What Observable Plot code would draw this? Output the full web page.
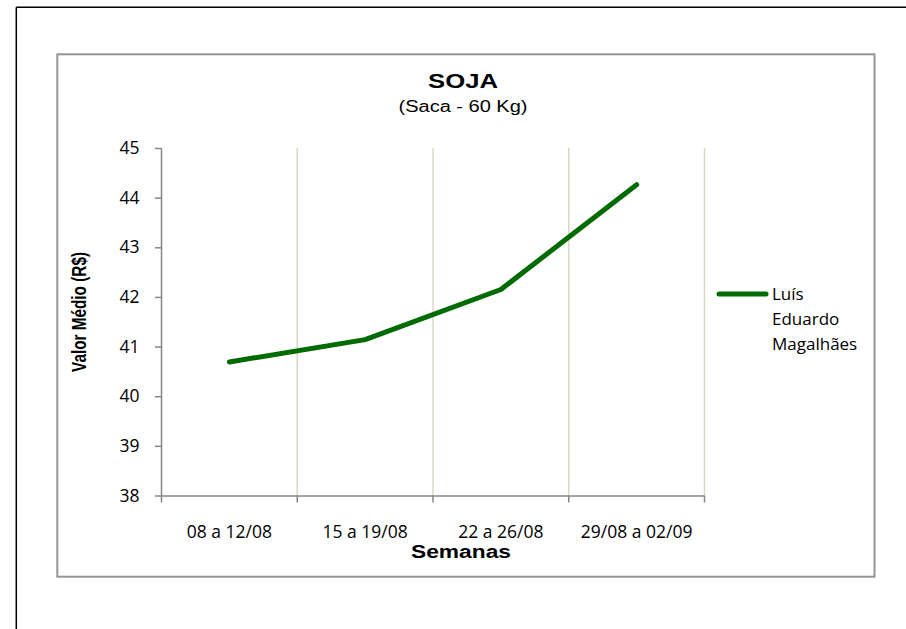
<!DOCTYPE html>
<html>
<head>
<meta charset="utf-8">
<script src="https://cdn.jsdelivr.net/npm/d3@7"></script>
<script src="https://cdn.jsdelivr.net/npm/@observablehq/plot@0.6"></script>
<style>
  html, body { margin: 0; padding: 0; background: #fff; overflow: hidden; }
</style>
</head>
<body>
<div id="chart"></div>
<script>
// ---- data ----
const weeks = ["08 a 12/08", "15 a 19/08", "22 a 26/08", "29/08 a 02/09"];
const prices = [40.70, 41.15, 42.16, 44.27];
const yTicks = [38, 39, 40, 41, 42, 43, 44, 45];
const seriesLines = ["Luís", "Eduardo", "Magalhães"];
const titleText = "SOJA";
const subtitleText = "(Saca - 60 Kg)";
const xLabelText = "Semanas";
const yLabelText = "Valor Médio (R$)";

const rows = weeks.map((w, i) => ({ i, week: w, value: prices[i] }));
const bandEdges = d3.range(weeks.length + 1).map(k => k - 0.5);
const gridEdges = bandEdges.slice(1);
const centers = d3.range(weeks.length);

const lineColor = "#006b00";
const axisColor = "#868686";
const gridColor = "#dcd7c4";

const svg = Plot.plot({
  width: 906,
  height: 629,
  marginLeft: 161,
  marginRight: 202,
  marginTop: 148,
  marginBottom: 133.5,
  style: { fontFamily: "'Open Sans', sans-serif", fontSize: "17.5px", background: "#fff", color: "#000" },
  x: { type: "linear", domain: [-0.5, weeks.length - 0.5] },
  y: { domain: [yTicks[0], yTicks[yTicks.length - 1]] },
  marks: [
    Plot.ruleX(gridEdges, { stroke: gridColor, strokeWidth: 1.5 }),
    Plot.ruleX([bandEdges[0]], { stroke: axisColor, strokeWidth: 1.5 }),
    Plot.ruleY([yTicks[0]], { stroke: axisColor, strokeWidth: 1.5 }),
    Plot.axisY(yTicks, { tickSize: 6, tickPadding: 16, stroke: axisColor, strokeWidth: 1.5, fill: "#000", fontSize: 17.5, tickFormat: d => String(d), label: null }),
    Plot.axisX(bandEdges, { tickSize: 7, stroke: axisColor, strokeWidth: 1.5, tickFormat: () => "", label: null }),
    Plot.axisX(centers, { tickSize: 0, tickPadding: 30, fill: "#000", fontSize: 17.5, tickFormat: i => weeks[i], label: null }),
    Plot.line(rows, { x: "i", y: "value", stroke: lineColor, strokeWidth: 5, strokeLinecap: "round", strokeLinejoin: "round" })
  ]
});

const s = d3.select(svg);
// outer black border (top and left)
s.append("line").attr("x1", 16.3).attr("y1", 7.2).attr("x2", 906).attr("y2", 7.2)
  .attr("stroke", "#000").attr("stroke-width", 1.5);
s.append("line").attr("x1", 16.3).attr("y1", 7.2).attr("x2", 16.3).attr("y2", 629)
  .attr("stroke", "#000").attr("stroke-width", 1.5);
// chart area gray box
s.append("rect").attr("x", 57.3).attr("y", 54.3).attr("width", 874.5 - 57.3).attr("height", 576.7 - 54.3)
  .attr("fill", "none").attr("stroke", "#959595").attr("stroke-width", 2);

// title
s.append("text").attr("x", 463).attr("y", 88).attr("text-anchor", "middle")
  .attr("font-family", "'Liberation Sans', Arial, sans-serif").attr("font-weight", "bold").attr("font-size", 20)
  .attr("textLength", 70).attr("lengthAdjust", "spacingAndGlyphs").attr("fill", "#000")
  .text(titleText);
s.append("text").attr("x", 463).attr("y", 112).attr("text-anchor", "middle")
  .attr("font-family", "'Liberation Sans', Arial, sans-serif").attr("font-size", 16)
  .attr("textLength", 129).attr("lengthAdjust", "spacingAndGlyphs").attr("fill", "#000")
  .text(subtitleText);

// x axis title
s.append("text").attr("x", 461).attr("y", 557.5).attr("text-anchor", "middle")
  .attr("font-family", "'Liberation Sans', Arial, sans-serif").attr("font-weight", "bold").attr("font-size", 18)
  .attr("textLength", 100).attr("lengthAdjust", "spacingAndGlyphs").attr("fill", "#000")
  .text(xLabelText);

// y axis title (rotated, stretched horizontally)
s.append("text").attr("transform", "translate(86,312) scale(1.3,1) rotate(-90)")
  .attr("text-anchor", "middle")
  .attr("font-family", "'Liberation Sans', Arial, sans-serif").attr("font-weight", "bold").attr("font-size", 15)
  .attr("textLength", 120).attr("lengthAdjust", "spacingAndGlyphs").attr("fill", "#000")
  .text(yLabelText);

// legend
s.append("line").attr("x1", 719).attr("y1", 294).attr("x2", 766).attr("y2", 294)
  .attr("stroke", lineColor).attr("stroke-width", 5).attr("stroke-linecap", "round");
seriesLines.forEach((t, k) => {
  s.append("text").attr("x", 772).attr("y", 300 + k * 25).attr("text-anchor", "start")
    .attr("font-family", "'Open Sans', sans-serif").attr("font-size", 17).attr("fill", "#000")
    .text(t);
});

document.getElementById("chart").appendChild(svg);
</script>
</body>
</html>
